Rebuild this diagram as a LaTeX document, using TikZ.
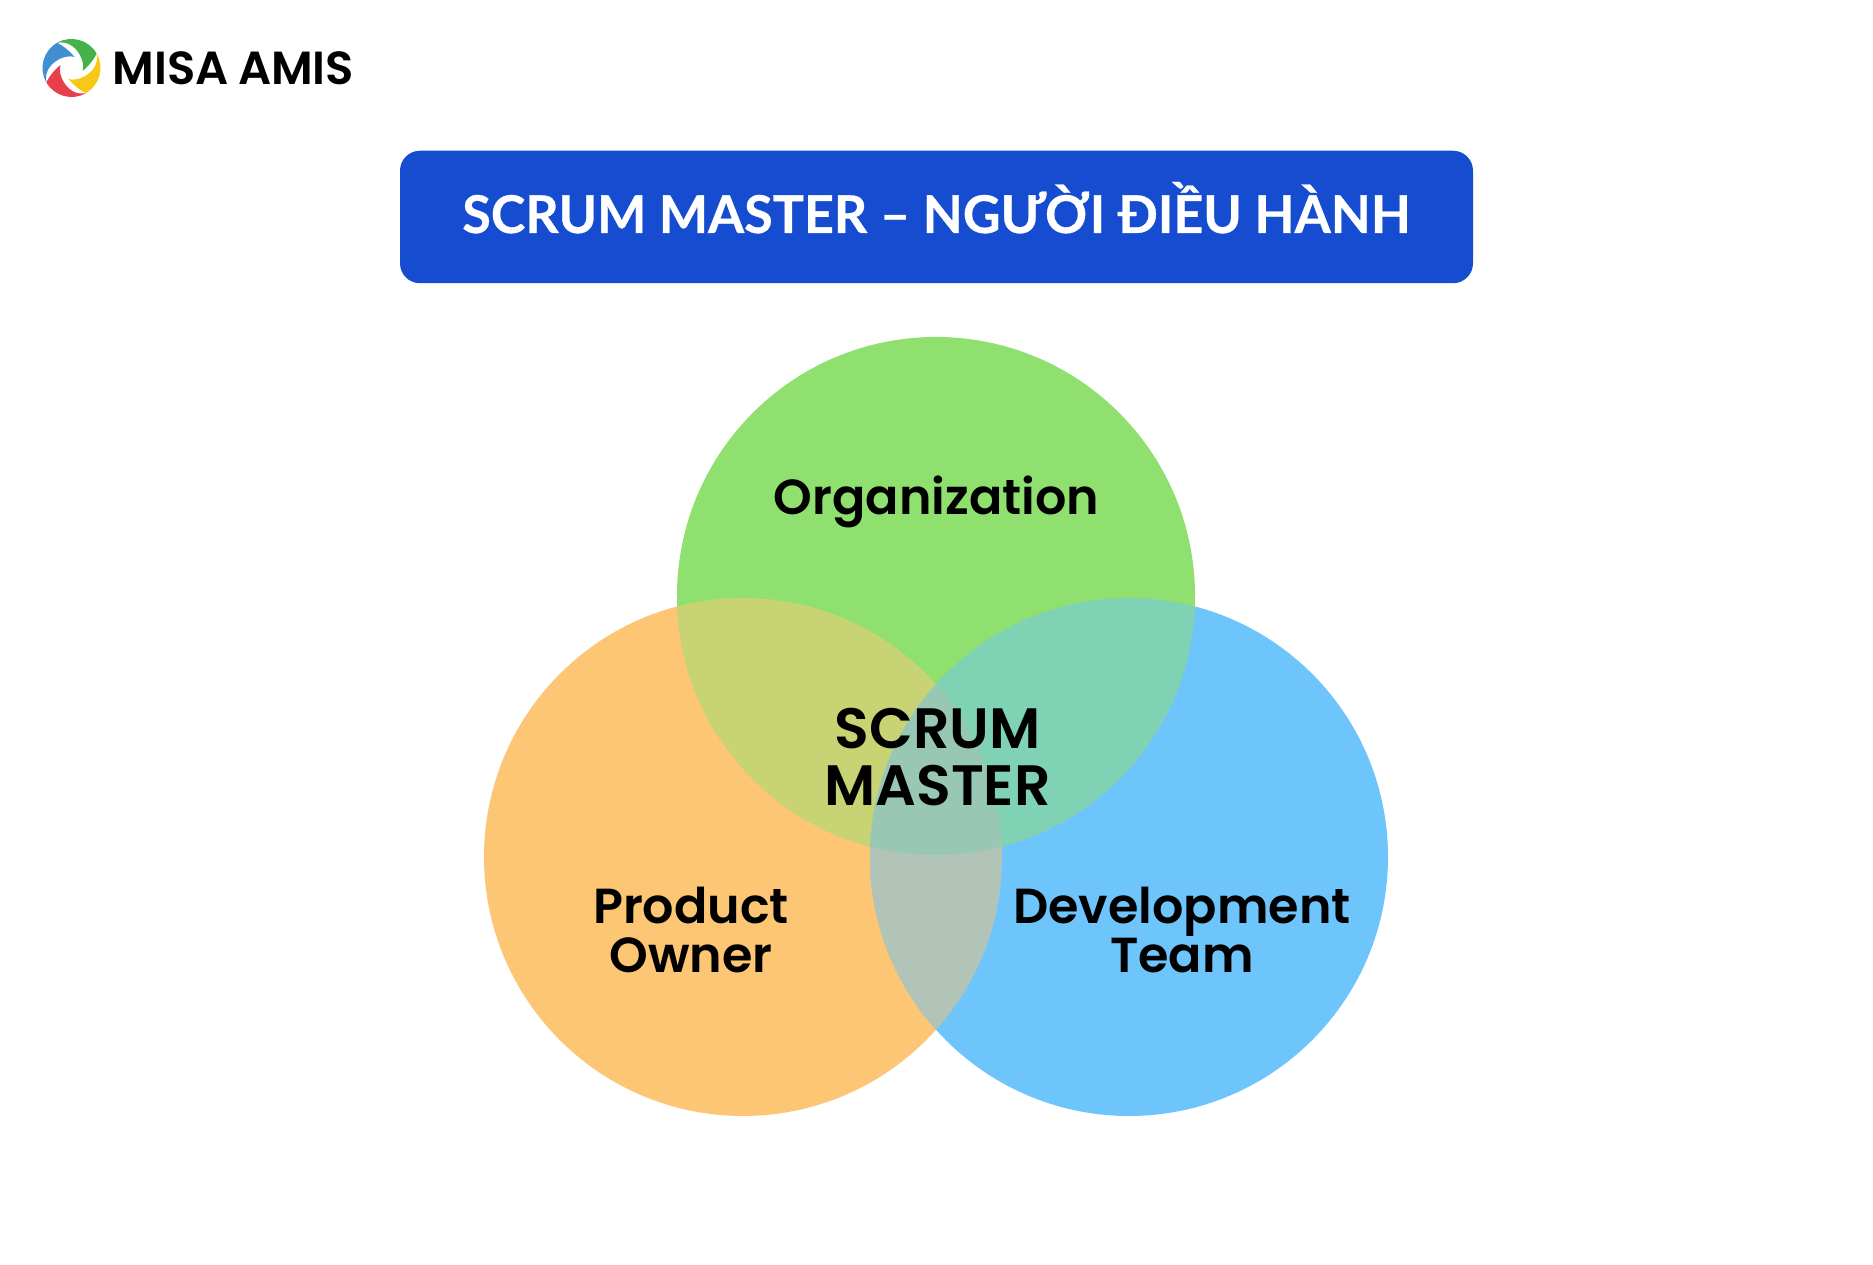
\documentclass[tikz,border=0pt]{standalone}
\usepackage{xcolor}
\usepackage{fontspec}
\usepackage{tikz}
\setmainfont{Lato}[BoldFeatures={FakeBold=0.6}]
\newfontfamily\labelfont{Poppins SemiBold}

\definecolor{titleblue}{HTML}{164CCF}
\definecolor{circgreen}{HTML}{90E070}
\definecolor{circorange}{HTML}{FCC674}
\definecolor{circblue}{HTML}{6EC5FC}
\definecolor{mixog}{HTML}{C8D474}
\definecolor{mixgb}{HTML}{80D2B4}
\definecolor{mixob}{HTML}{B2C4B8}
\definecolor{mixall}{HTML}{98C8B4}
\definecolor{logoblue}{HTML}{3F8FD2}
\definecolor{logogreen}{HTML}{45B24A}
\definecolor{logoyellow}{HTML}{F7C815}
\definecolor{logored}{HTML}{E8404A}

\tikzset{
  venntext/.style={font=\labelfont\fontsize{14}{14.2}\selectfont, align=center, text=black},
}

\begin{document}
\begin{tikzpicture}

\useasboundingbox (0,0) rectangle (18.73,12.65);
\path[fill=white] (0,0) rectangle (18.73,12.65);

% logo
\begin{scope}[shift={(0.715,11.97)}, scale=0.29]
\foreach \col/\ang in {logogreen/0, logoblue/90, logored/180, logoyellow/270}{
  \path[fill=\col, rotate=\ang] (120:1) arc (120:30:1)
    .. controls (0.78,0.3) and (0.55,0.02) .. (0.38,-0.10)
    .. controls (0.5,0.2) and (0.15,1.0) .. (120:1) -- cycle;
}
\end{scope}
\node[font=\labelfont\fontsize{13.2}{13}\selectfont, anchor=west, inner sep=0pt] (logotext) at (1.12,11.97) {MISA\hspace{0.2em}AMIS};

% title
\node[fill=titleblue, rounded corners=0.2cm, minimum width=10.73cm, minimum height=1.325cm, text=white, text height=0.5cm, text depth=0.18cm, font=\bfseries\fontsize{14.8}{15}\selectfont] (title) at (9.365,10.48) {SCRUM MASTER – NGƯỜI ĐIỀU HÀNH};

% circles
\path[fill=circorange] (7.43,4.08) circle (2.59);
\path[fill=circblue] (11.29,4.08) circle (2.59);
\path[fill=circgreen] (9.36,6.69) circle (2.59);

\begin{scope}
\clip (7.43,4.08) circle (2.59);
\path[fill=mixog] (9.36,6.69) circle (2.59);
\path[fill=mixob] (11.29,4.08) circle (2.59);
\end{scope}

\begin{scope}
\clip (11.29,4.08) circle (2.59);
\path[fill=mixgb] (9.36,6.69) circle (2.59);
\end{scope}

\begin{scope}
\clip (7.43,4.08) circle (2.59);
\clip (11.29,4.08) circle (2.59);
\path[fill=mixob] (7,1) rectangle (12,9);
\path[fill=mixall] (9.36,6.69) circle (2.59);
\end{scope}

\node[venntext] (organization) at (9.365,7.63) {Organization};
\node[venntext] (product) at (6.91,3.35) {Product\\Owner};
\node[venntext] (devteam) at (11.82,3.35) {Development\\Team};
\node[venntext, font=\labelfont\fontsize{16.2}{16}\selectfont] (scrum) at (9.375,5.08) {SCRUM\\MASTER};

\end{tikzpicture}
\end{document}
